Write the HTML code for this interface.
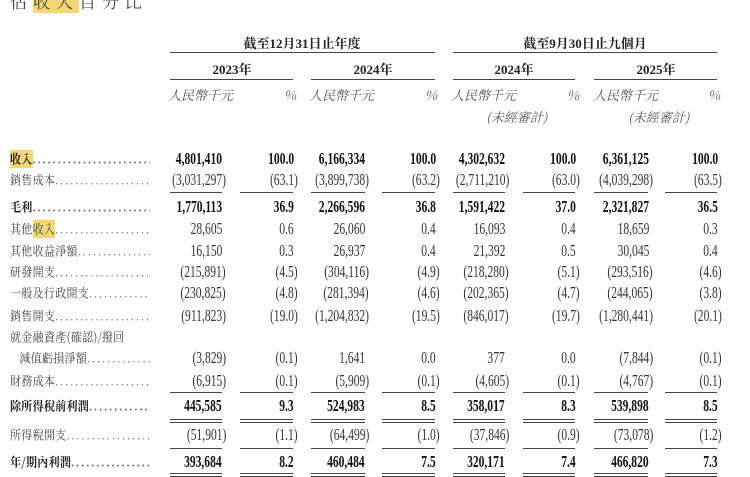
<!DOCTYPE html>
<html><head><meta charset="utf-8"><style>
body{margin:0;width:750px;height:477px;background:#fff;overflow:hidden;position:relative;font-family:"Liberation Serif","Noto Serif CJK SC","Noto Sans CJK TC",serif;color:#222}
.a{position:absolute;white-space:nowrap}
.r{position:absolute;left:0;width:750px;height:18px}
.r>span{position:absolute;top:0;line-height:18px;font-size:16.5px;transform:scaleX(.7);transform-origin:right center;white-space:nowrap;color:#333}
.c1{right:528px}.c2{right:456px}.c3{right:385px}.c4{right:314px}.c5{right:245px}.c6{right:174px}.c7{right:101px}.c8{right:32px}
.p{margin-right:-4px}
.b>span{font-weight:bold;color:#111}
.lab{position:absolute;left:10px;top:0;width:140px;overflow:hidden;line-height:18px;font-size:11px;color:#444;white-space:nowrap;font-family:"Noto Serif CJK TC","Noto Sans CJK TC",serif;letter-spacing:0.3px;transform:scaleY(1.15)}
.lab i{font-style:normal;font-family:"Liberation Serif",serif;letter-spacing:2.3px;color:#666}
.b .lab{font-weight:bold;color:#222}
.hl{background:#f3d774}
.ln{position:absolute;height:1px;background:#444}
.dl{position:absolute;height:2px;border-top:1px solid #444;border-bottom:1px solid #444}
.h{font-size:13px;font-weight:bold;font-family:"Liberation Serif","Noto Serif CJK TC",serif;transform:translateX(-50%)}
.it{font-style:italic;font-size:13px;color:#555;font-family:"Noto Serif CJK TC",serif}
</style></head><body>
<div class="a" style="left:10px;top:-12px;font-size:17px;color:#444;letter-spacing:6px;font-family:'Noto Serif CJK TC',serif">佔<span class="hl">收入</span>百分比</div>

<div class="a h" style="left:302px;top:33px">截至12月31日止年度</div>
<div class="a h" style="left:585px;top:33px">截至9月30日止九個月</div>
<div class="ln" style="left:170px;top:52px;width:265px"></div>
<div class="ln" style="left:453px;top:52px;width:264px"></div>
<div class="a h" style="left:232px;top:59px">2023年</div>
<div class="a h" style="left:373px;top:59px">2024年</div>
<div class="a h" style="left:514px;top:59px">2024年</div>
<div class="a h" style="left:656px;top:59px">2025年</div>
<div class="ln" style="left:170px;top:79px;width:123px"></div>
<div class="ln" style="left:311px;top:79px;width:124px"></div>
<div class="ln" style="left:453px;top:79px;width:122px"></div>
<div class="ln" style="left:594px;top:79px;width:123px"></div>

<div class="a it" style="left:168px;top:85px">人民幣千元</div>
<div class="a it" style="left:309px;top:85px">人民幣千元</div>
<div class="a it" style="left:451px;top:85px">人民幣千元</div>
<div class="a it" style="left:593px;top:85px">人民幣千元</div>
<div class="a it" style="left:284px;top:85px">%</div>
<div class="a it" style="left:425px;top:85px">%</div>
<div class="a it" style="left:567px;top:85px">%</div>
<div class="a it" style="left:708px;top:85px">%</div>
<div class="a it" style="left:486px;top:107px">(未經審計)</div>
<div class="a it" style="left:628px;top:107px">(未經審計)</div>

<div class="r b" style="top:150px"><div class="lab"><span class="hl">收入</span><i>..............................................</i></div><span class="c1">4,801,410</span><span class="c2">100.0</span><span class="c3">6,166,334</span><span class="c4">100.0</span><span class="c5">4,302,632</span><span class="c6">100.0</span><span class="c7">6,361,125</span><span class="c8">100.0</span></div>
<div class="r" style="top:171px"><div class="lab">銷售成本<i>..............................................</i></div><span class="c1 p">(3,031,297)</span><span class="c2 p">(63.1)</span><span class="c3 p">(3,899,738)</span><span class="c4 p">(63.2)</span><span class="c5 p">(2,711,210)</span><span class="c6 p">(63.0)</span><span class="c7 p">(4,039,298)</span><span class="c8 p">(63.5)</span></div>
<div class="ln" style="left:170px;top:192px;width:52px"></div><div class="ln" style="left:240px;top:192px;width:53px"></div><div class="ln" style="left:311px;top:192px;width:54px"></div><div class="ln" style="left:382px;top:192px;width:53px"></div><div class="ln" style="left:453px;top:192px;width:52px"></div><div class="ln" style="left:523px;top:192px;width:52px"></div><div class="ln" style="left:594px;top:192px;width:54px"></div><div class="ln" style="left:665px;top:192px;width:52px"></div>
<div class="r b" style="top:198px"><div class="lab">毛利<i>..............................................</i></div><span class="c1">1,770,113</span><span class="c2">36.9</span><span class="c3">2,266,596</span><span class="c4">36.8</span><span class="c5">1,591,422</span><span class="c6">37.0</span><span class="c7">2,321,827</span><span class="c8">36.5</span></div>
<div class="r" style="top:220px"><div class="lab">其他<span class="hl">收入</span><i>..............................................</i></div><span class="c1">28,605</span><span class="c2">0.6</span><span class="c3">26,060</span><span class="c4">0.4</span><span class="c5">16,093</span><span class="c6">0.4</span><span class="c7">18,659</span><span class="c8">0.3</span></div>
<div class="r" style="top:242px"><div class="lab">其他收益淨額<i>..............................................</i></div><span class="c1">16,150</span><span class="c2">0.3</span><span class="c3">26,937</span><span class="c4">0.4</span><span class="c5">21,392</span><span class="c6">0.5</span><span class="c7">30,045</span><span class="c8">0.4</span></div>
<div class="r" style="top:263px"><div class="lab">研發開支<i>..............................................</i></div><span class="c1 p">(215,891)</span><span class="c2 p">(4.5)</span><span class="c3 p">(304,116)</span><span class="c4 p">(4.9)</span><span class="c5 p">(218,280)</span><span class="c6 p">(5.1)</span><span class="c7 p">(293,516)</span><span class="c8 p">(4.6)</span></div>
<div class="r" style="top:284px"><div class="lab">一般及行政開支<i>..............................................</i></div><span class="c1 p">(230,825)</span><span class="c2 p">(4.8)</span><span class="c3 p">(281,394)</span><span class="c4 p">(4.6)</span><span class="c5 p">(202,365)</span><span class="c6 p">(4.7)</span><span class="c7 p">(244,065)</span><span class="c8 p">(3.8)</span></div>
<div class="r" style="top:307px"><div class="lab">銷售開支<i>..............................................</i></div><span class="c1 p">(911,823)</span><span class="c2 p">(19.0)</span><span class="c3 p">(1,204,832)</span><span class="c4 p">(19.5)</span><span class="c5 p">(846,017)</span><span class="c6 p">(19.7)</span><span class="c7 p">(1,280,441)</span><span class="c8 p">(20.1)</span></div>
<div class="r" style="top:328px"><div class="lab">就金融資產(確認)/撥回</div></div>
<div class="r" style="top:349px"><div class="lab">&nbsp;&nbsp;&nbsp;減值虧損淨額<i>..............................................</i></div><span class="c1 p">(3,829)</span><span class="c2 p">(0.1)</span><span class="c3">1,641</span><span class="c4">0.0</span><span class="c5">377</span><span class="c6">0.0</span><span class="c7 p">(7,844)</span><span class="c8 p">(0.1)</span></div>
<div class="r" style="top:372px"><div class="lab">財務成本<i>..............................................</i></div><span class="c1 p">(6,915)</span><span class="c2 p">(0.1)</span><span class="c3 p">(5,909)</span><span class="c4 p">(0.1)</span><span class="c5 p">(4,605)</span><span class="c6 p">(0.1)</span><span class="c7 p">(4,767)</span><span class="c8 p">(0.1)</span></div>
<div class="ln" style="left:170px;top:392px;width:52px"></div><div class="ln" style="left:240px;top:392px;width:53px"></div><div class="ln" style="left:311px;top:392px;width:54px"></div><div class="ln" style="left:382px;top:392px;width:53px"></div><div class="ln" style="left:453px;top:392px;width:52px"></div><div class="ln" style="left:523px;top:392px;width:52px"></div><div class="ln" style="left:594px;top:392px;width:54px"></div><div class="ln" style="left:665px;top:392px;width:52px"></div>
<div class="r b" style="top:397px"><div class="lab">除所得稅前利潤<i>..............................................</i></div><span class="c1">445,585</span><span class="c2">9.3</span><span class="c3">524,983</span><span class="c4">8.5</span><span class="c5">358,017</span><span class="c6">8.3</span><span class="c7">539,898</span><span class="c8">8.5</span></div>
<div class="dl" style="left:170px;top:419px;width:52px"></div><div class="dl" style="left:240px;top:419px;width:53px"></div><div class="dl" style="left:311px;top:419px;width:54px"></div><div class="dl" style="left:382px;top:419px;width:53px"></div><div class="dl" style="left:453px;top:419px;width:52px"></div><div class="dl" style="left:523px;top:419px;width:52px"></div><div class="dl" style="left:594px;top:419px;width:54px"></div><div class="dl" style="left:665px;top:419px;width:52px"></div>
<div class="r" style="top:426px"><div class="lab">所得稅開支<i>..............................................</i></div><span class="c1 p">(51,901)</span><span class="c2 p">(1.1)</span><span class="c3 p">(64,499)</span><span class="c4 p">(1.0)</span><span class="c5 p">(37,846)</span><span class="c6 p">(0.9)</span><span class="c7 p">(73,078)</span><span class="c8 p">(1.2)</span></div>
<div class="ln" style="left:170px;top:448px;width:52px"></div><div class="ln" style="left:240px;top:448px;width:53px"></div><div class="ln" style="left:311px;top:448px;width:54px"></div><div class="ln" style="left:382px;top:448px;width:53px"></div><div class="ln" style="left:453px;top:448px;width:52px"></div><div class="ln" style="left:523px;top:448px;width:52px"></div><div class="ln" style="left:594px;top:448px;width:54px"></div><div class="ln" style="left:665px;top:448px;width:52px"></div>
<div class="r b" style="top:453px"><div class="lab">年/期內利潤<i>..............................................</i></div><span class="c1">393,684</span><span class="c2">8.2</span><span class="c3">460,484</span><span class="c4">7.5</span><span class="c5">320,171</span><span class="c6">7.4</span><span class="c7">466,820</span><span class="c8">7.3</span></div>
<div class="dl" style="left:170px;top:473px;width:52px"></div><div class="dl" style="left:240px;top:473px;width:53px"></div><div class="dl" style="left:311px;top:473px;width:54px"></div><div class="dl" style="left:382px;top:473px;width:53px"></div><div class="dl" style="left:453px;top:473px;width:52px"></div><div class="dl" style="left:523px;top:473px;width:52px"></div><div class="dl" style="left:594px;top:473px;width:54px"></div><div class="dl" style="left:665px;top:473px;width:52px"></div>
</body></html>
